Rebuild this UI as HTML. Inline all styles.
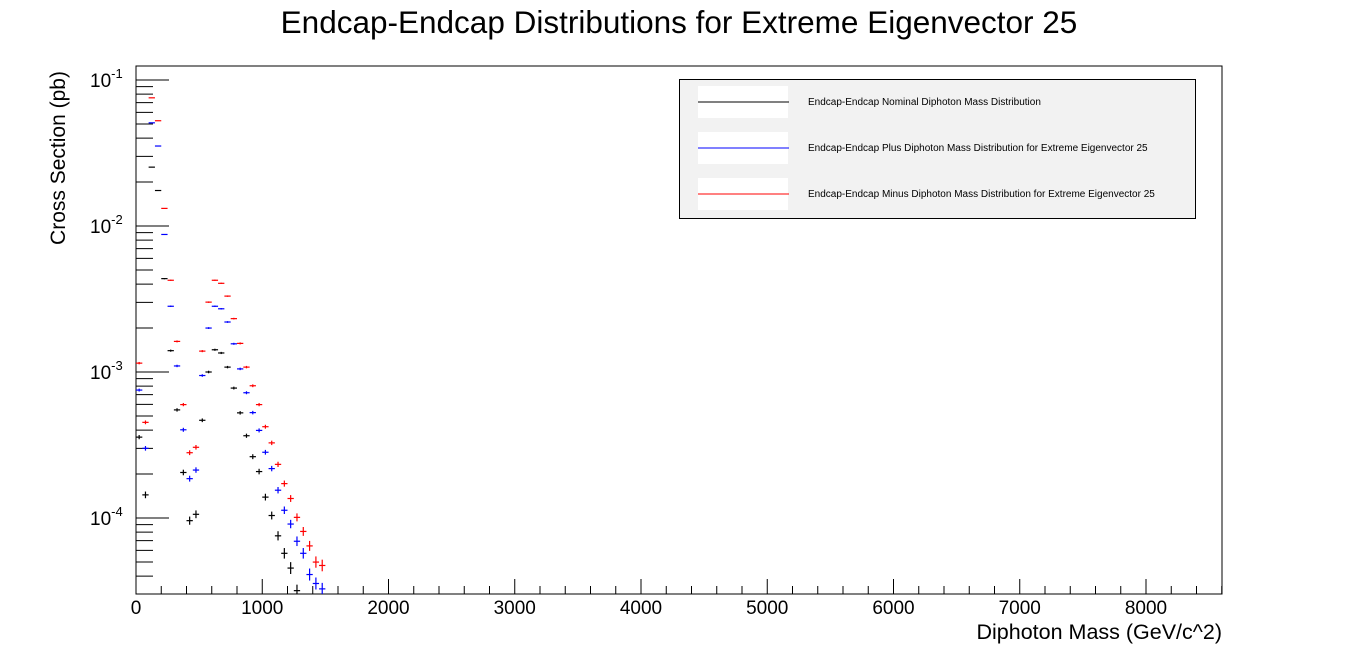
<!DOCTYPE html>
<html><head><meta charset="utf-8"><style>
html,body{margin:0;padding:0;background:#fff;}
svg{display:block;font-family:"Liberation Sans",sans-serif;}
</style></head><body>
<svg id="chart" width="1358" height="661" viewBox="0 0 1358 661" xmlns="http://www.w3.org/2000/svg">
<rect x="0" y="0" width="1358" height="661" fill="#fff"/>
<text x="679" y="33" font-size="31.5" text-anchor="middle">Endcap-Endcap Distributions for Extreme Eigenvector 25</text>
<rect x="136" y="66" width="1086" height="528" fill="none" stroke="#000" stroke-width="1"/>
<g id="yticks"></g>
<g id="xticks"></g>
<g id="series"></g>
<text transform="translate(65,158) rotate(-90)" font-size="21" text-anchor="middle">Cross Section (pb)</text>
<text x="1222" y="639" font-size="21.5" text-anchor="end">Diphoton Mass (GeV/c^2)</text>
<g>
<rect x="679.5" y="79.5" width="516" height="139" fill="#f2f2f2" stroke="#000" stroke-width="1"/>
<rect x="698" y="86" width="90" height="32" fill="#fff"/>
<rect x="698" y="132" width="90" height="32" fill="#fff"/>
<rect x="698" y="178" width="90" height="32" fill="#fff"/>
<line x1="698" y1="102" x2="789" y2="102" stroke="#000"/>
<line x1="698" y1="148" x2="789" y2="148" stroke="#0000ff"/>
<line x1="698" y1="194" x2="789" y2="194" stroke="#ff0000"/>
<text x="808" y="105" font-size="10">Endcap-Endcap Nominal Diphoton Mass Distribution</text>
<text x="808" y="151" font-size="10">Endcap-Endcap Plus Diphoton Mass Distribution for Extreme Eigenvector 25</text>
<text x="808" y="197" font-size="10">Endcap-Endcap Minus Diphoton Mass Distribution for Extreme Eigenvector 25</text>
</g>
</svg>
<script>
const binWidth = 50;
const xTickValues = [0,1000,2000,3000,4000,5000,6000,7000,8000];
const yDecades = [-1,-2,-3,-4];
const nominalValues = [3.58e-4,1.44e-4,2.53e-2,1.75e-2,4.36e-3,1.40e-3,5.50e-4,2.05e-4,9.59e-5,1.06e-4,4.67e-4,1.00e-3,1.42e-3,1.35e-3,1.08e-3,7.76e-4,5.25e-4,3.66e-4,2.63e-4,2.08e-4,1.39e-4,1.04e-4,7.55e-5,5.73e-5,4.54e-5,3.18e-5];
const plusValues = [7.52e-4,3.00e-4,5.09e-2,3.53e-2,8.75e-3,2.82e-3,1.10e-3,4.02e-4,1.86e-4,2.13e-4,9.46e-4,2.00e-3,2.82e-3,2.71e-3,2.20e-3,1.56e-3,1.05e-3,7.21e-4,5.27e-4,3.98e-4,2.82e-4,2.18e-4,1.55e-4,1.13e-4,9.09e-5,6.93e-5,5.73e-5,4.10e-5,3.56e-5,3.27e-5];
const minusValues = [1.15e-3,4.52e-4,7.55e-2,5.26e-2,1.32e-2,4.25e-3,1.62e-3,5.98e-4,2.80e-4,3.05e-4,1.39e-3,3.01e-3,4.25e-3,4.05e-3,3.31e-3,2.32e-3,1.57e-3,1.08e-3,8.05e-4,5.98e-4,4.22e-4,3.27e-4,2.33e-4,1.72e-4,1.36e-4,1.01e-4,8.09e-5,6.44e-5,4.99e-5,4.73e-5];

const NS='http://www.w3.org/2000/svg';
const X0=136, X1=1222, PX_PER_GEV=126.25/1000;
const Y_TOP=66, Y_BOT=594, Y_DEC1=80, PX_PER_DEC=146;
function xs(v){return X0+v*PX_PER_GEV;}
function ys(v){return Y_DEC1+(-1-Math.log10(v))*PX_PER_DEC;}
function mk(tag,attrs,parent){const e=document.createElementNS(NS,tag);for(const k in attrs)e.setAttribute(k,attrs[k]);parent.appendChild(e);return e;}

const xg=document.getElementById('xticks');
for(let v=0; xs(v)<=X1; v+=200){
  const major=(v%1000===0);
  const t=mk('line',{x1:xs(v),x2:xs(v),y1:Y_BOT,y2:Y_BOT-(major?15:8),stroke:'#000'},xg);
  
  
}
xTickValues.forEach(v=>{
  const t=mk('text',{x:xs(v),y:614,'font-size':19,'text-anchor':'middle'},xg);
  t.textContent=String(v);
  
  
});

const yg=document.getElementById('yticks');
for(let d=-5; d<=-1; d++){
  for(let m=1;m<=9;m++){
    const v=m*Math.pow(10,d);
    const y=ys(v);
    if(y<Y_TOP||y>Y_BOT) continue;
    const t=mk('line',{x1:X0,x2:X0+(m===1?33:17),y1:y,y2:y,stroke:'#000'},yg);
    
    
  }
}
yDecades.forEach(d=>{
  const y=ys(Math.pow(10,d));
  const t=mk('text',{x:90,y:y+7,'font-size':19},yg);
  
  
  const b=mk('tspan',{},t);
  b.textContent='10';
  const s=mk('tspan',{dy:-9,'font-size':13},t);
  s.textContent=String(d);
});

const sg=document.getElementById('series');
function drawSeries(vals,color,name){
  const g=mk('g',{},sg);
  
  
  vals.forEach((v,i)=>{
    const cx=xs((i+0.5)*binWidth), cy=ys(v);
    const xl=xs(i*binWidth), xr=xs((i+1)*binWidth);
    const err=Math.min(6,0.4*Math.sqrt(1e-2/v));
    const h=mk('line',{x1:xl,x2:xr,y1:cy,y2:cy,stroke:color,'stroke-width':1.2},g);
    
    
    const vl=mk('line',{x1:cx,x2:cx,y1:Math.max(Y_TOP,cy-err),y2:Math.min(Y_BOT,cy+err),stroke:color,'stroke-width':1.2},g);
    
    
  });
}
drawSeries(nominalValues,'#000','nominal-series');
drawSeries(plusValues,'#0000ff','plus-series');
drawSeries(minusValues,'#ff0000','minus-series');
</script>
</body></html>
